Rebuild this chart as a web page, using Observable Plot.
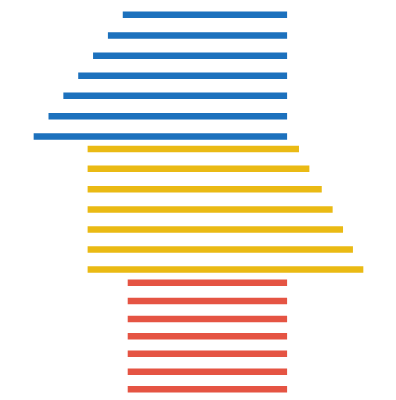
<!DOCTYPE html>
<html>
<head>
<meta charset="utf-8">
<script src="https://cdn.jsdelivr.net/npm/d3@7"></script>
<script src="https://cdn.jsdelivr.net/npm/@observablehq/plot@0.6"></script>
<style>
  html, body { margin: 0; padding: 0; background: #ffffff; }
  #chart svg { display: block; }
</style>
</head>
<body>
<div id="chart"></div>
<script>
// Groups and their colours
const groups = ["Group A", "Group B", "Group C"];
const palette = ["#1c71bd", "#eaba14", "#e55443"];

// Group A (blue, 7 bars): vertical position, start and end values
const groupAY     = [2.86, 7.0, 11.06, 15.06, 19.06, 23.16, 27.2];
const groupAStart = [24.8, 21.8, 18.8, 15.8, 12.8, 9.8, 6.8];
const groupAEnd   = [58.0, 58.0, 58.0, 58.0, 58.0, 58.0, 58.0];

// Group B (yellow, 7 bars)
const groupBY     = [29.68, 33.66, 37.76, 41.8, 45.8, 49.8, 53.8];
const groupBStart = [17.7, 17.7, 17.7, 17.7, 17.7, 17.7, 17.7];
const groupBEnd   = [60.4, 62.5, 65.0, 67.2, 69.3, 71.3, 73.4];

// Group C (red, 7 bars)
const groupCY     = [56.46, 60.08, 63.7, 67.14, 70.64, 74.26, 77.74];
const groupCStart = [25.8, 25.8, 25.8, 25.8, 25.8, 25.8, 25.8];
const groupCEnd   = [58.0, 58.0, 58.0, 58.0, 58.0, 58.0, 58.0];

const rows = [
  ...groupAY.map((y, i) => ({group: groups[0], y, start: groupAStart[i], end: groupAEnd[i]})),
  ...groupBY.map((y, i) => ({group: groups[1], y, start: groupBStart[i], end: groupBEnd[i]})),
  ...groupCY.map((y, i) => ({group: groups[2], y, start: groupCStart[i], end: groupCEnd[i]}))
];

const chart = Plot.plot({
  width: 396,
  height: 400,
  margin: 0,
  style: {background: "#ffffff"},
  x: {domain: [0, 80], axis: null},
  y: {domain: [0, 80], reverse: true, axis: null},
  color: {type: "ordinal", domain: groups, range: palette},
  marks: [
    Plot.ruleY(rows, {y: "y", x1: "start", x2: "end", stroke: "group", strokeWidth: 6.5})
  ]
});
document.getElementById("chart").appendChild(chart);
</script>
</body>
</html>
